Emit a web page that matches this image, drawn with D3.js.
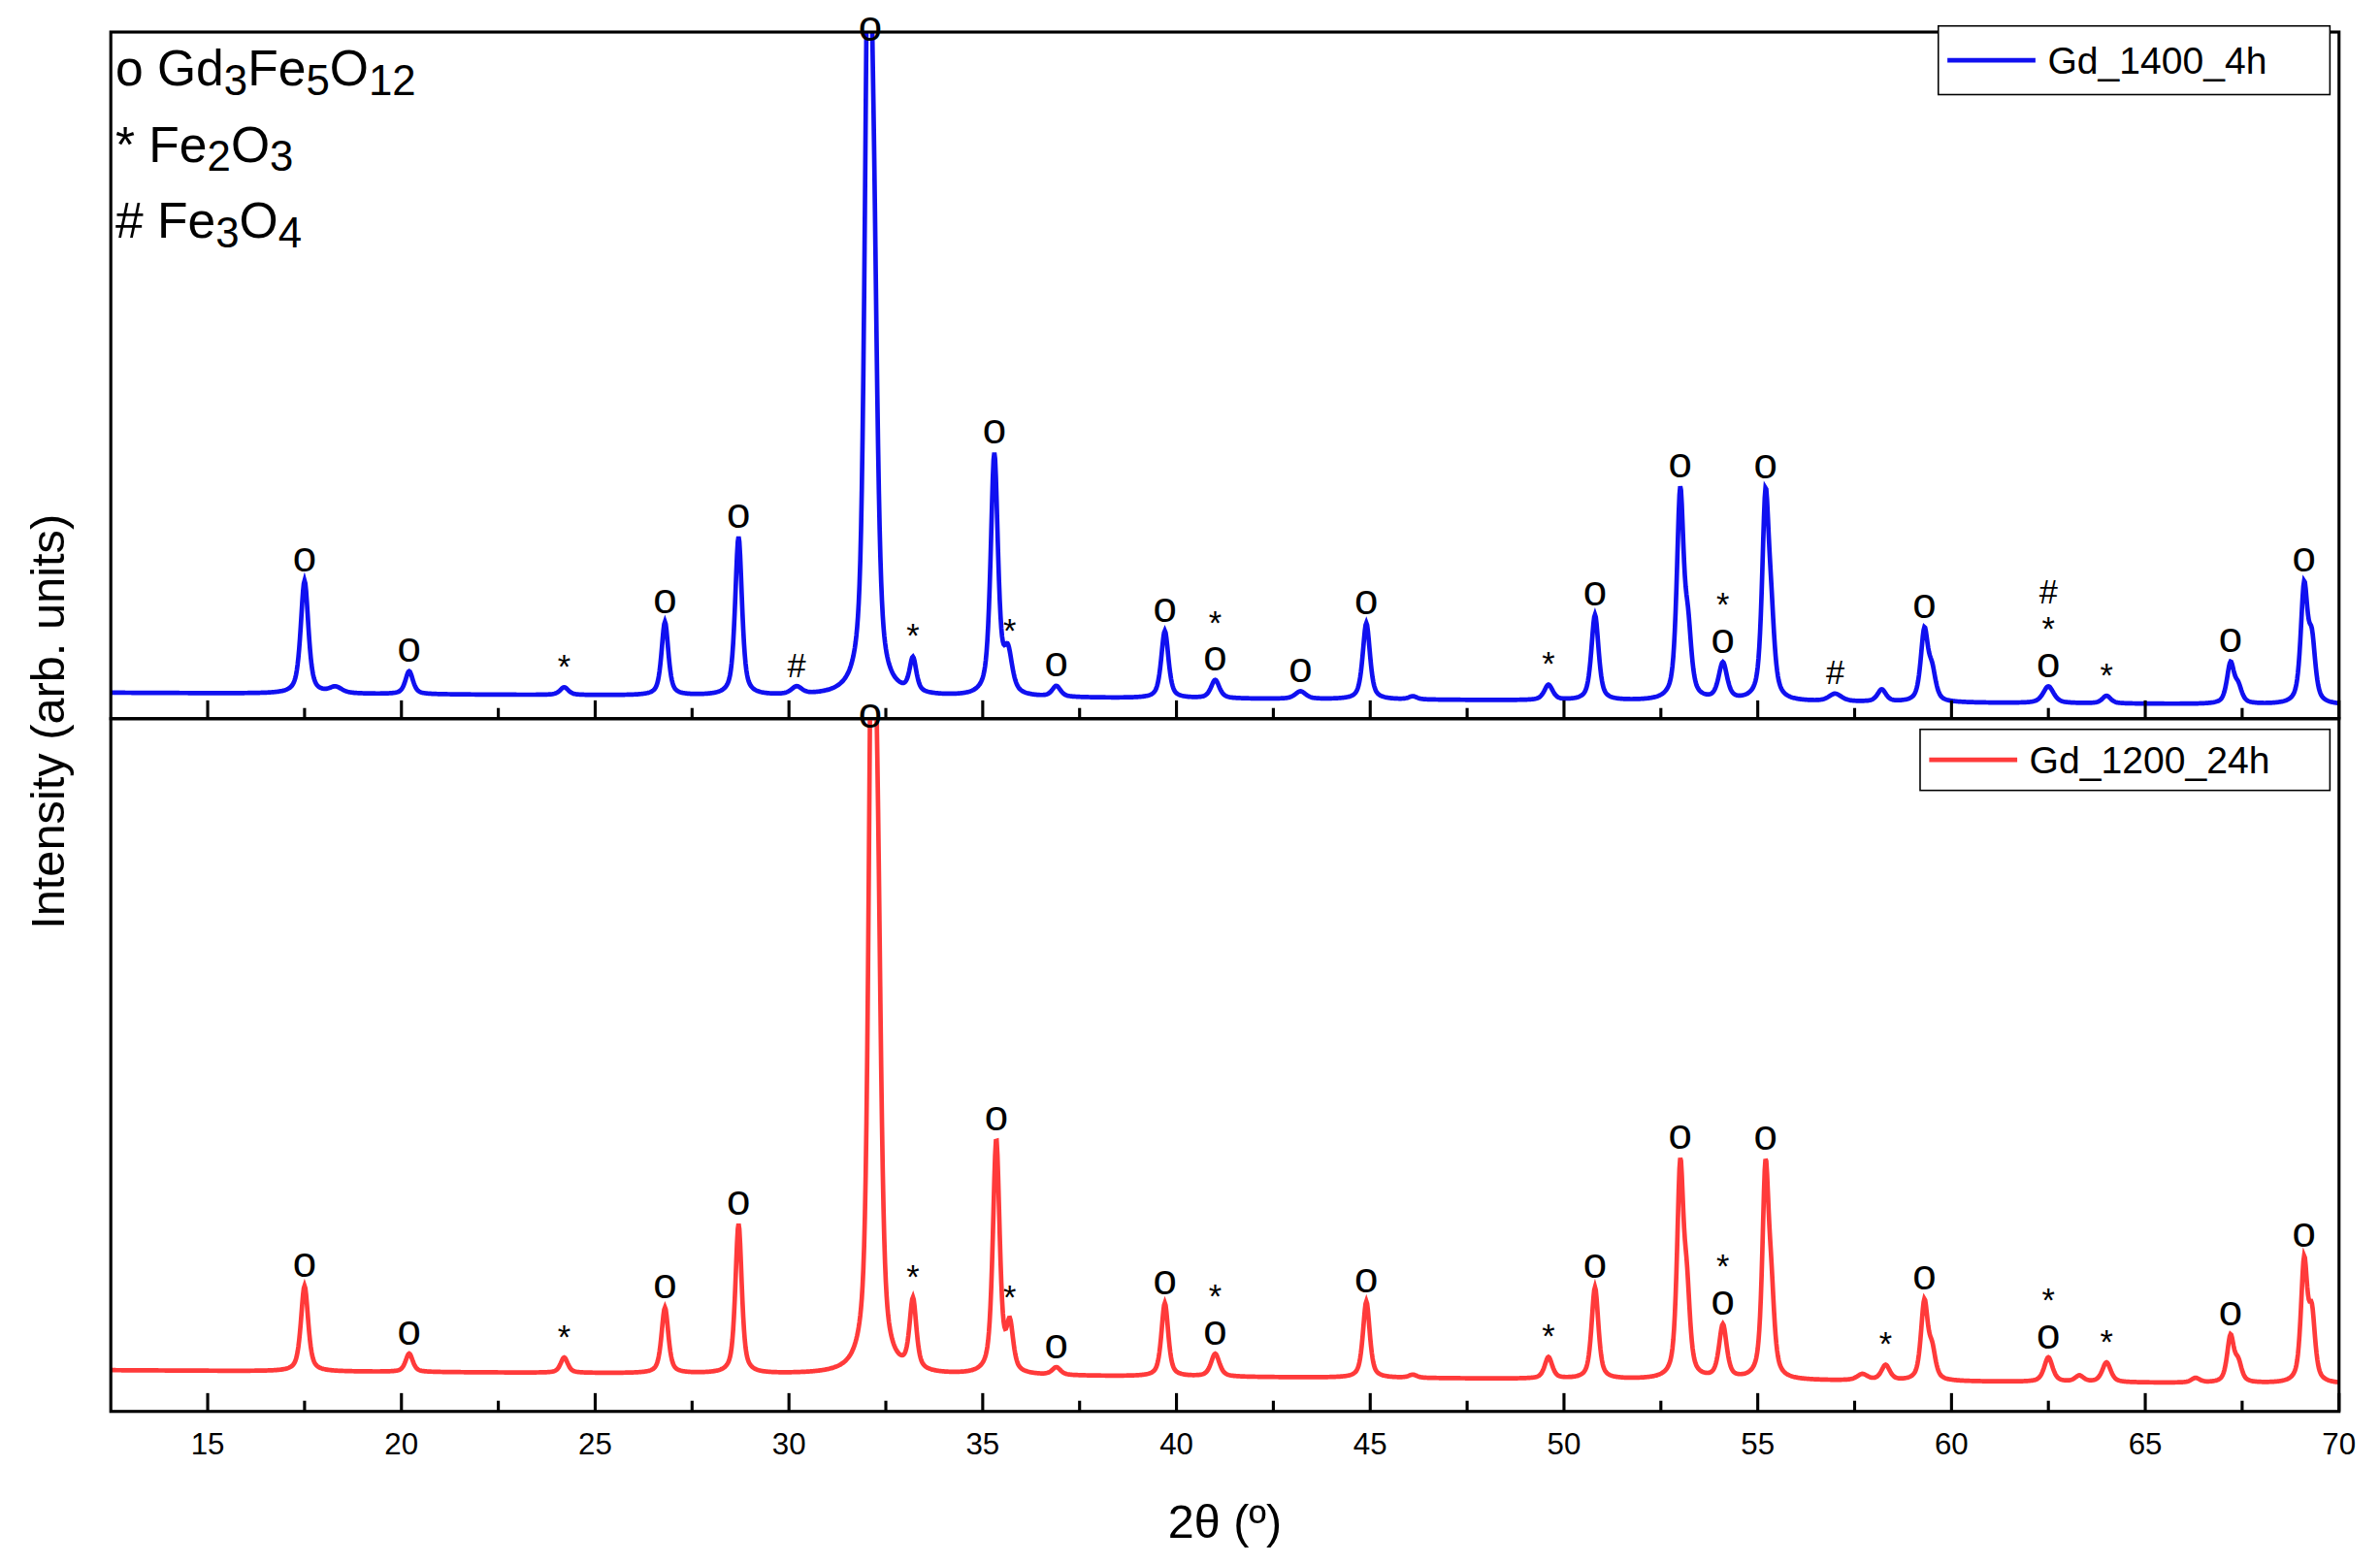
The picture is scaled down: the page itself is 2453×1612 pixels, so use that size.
<!DOCTYPE html>
<html><head><meta charset="utf-8">
<script src="https://cdn.jsdelivr.net/npm/d3@7"></script>
<style>body{margin:0;background:#fff}text{font-family:"Liberation Sans",Arial,sans-serif}</style>
</head><body><svg id="chart"></svg>
<script>
// peak lists: 2theta, height (arb.), fwhm
var topPeaks = [[17.5,74,.18],[18.3,4,.3],[20.2,15,.18],[24.2,5,.2],[26.8,48,.16],[28.7,104,.16],[30.2,5,.25],
  [32.05,480,.17],[32.2,200,.17],[33.2,22,.16],[35.3,158,.17],[35.65,26,.2],[36.9,7,.2],[39.7,44,.17],[41.0,12,.2],
  [43.2,5,.25],[44.9,50,.17],[46.1,2,.2],[49.6,10,.2],[50.8,56,.17],[53.0,134,.16],[53.2,40,.16],[54.1,24,.2],
  [55.2,128,.16],[55.35,40,.16],[57.0,5,.3],[58.2,8,.2],[59.3,46,.17],[59.5,18,.17],[62.5,11,.25],[64.0,5,.2],
  [67.2,26,.17],[67.4,10,.17],[69.1,75,.16],[69.3,38,.16]]
var botPeaks = [[17.5,56,.17],[20.2,12,.17],[24.2,10,.17],[26.8,43,.16],[28.7,98,.15],[32.15,520,.16],[32.3,220,.16],
  [33.2,46,.16],[35.35,153,.16],[35.7,30,.16],[36.9,5,.2],[39.7,48,.16],[41.0,15,.2],[44.9,50,.16],[46.1,2,.2],
  [49.6,14,.18],[50.8,60,.16],[53.0,135,.15],[53.17,50,.15],[54.1,35,.18],[55.2,133,.15],[55.35,45,.15],
  [57.7,4,.25],[58.3,10,.2],[59.3,51,.16],[59.5,18,.16],[62.5,16,.2],[63.3,4,.2],[64.0,13,.2],[66.3,3,.2],
  [67.2,30,.16],[67.4,12,.16],[69.1,78,.15],[69.3,42,.15]]
// phase marks: 2theta, stacked symbols (bottom first)
var topMarks = [[17.5,["o"]],[20.2,["o"]],[24.2,["*"]],[26.8,["o"]],[28.7,["o"]],[30.2,["#"]],[32.1,["o"]],[33.2,["*"]],
  [35.3,["o"]],[35.7,["*"]],[36.9,["o"]],[39.7,["o"]],[41.0,["o","*"]],[43.2,["o"]],[44.9,["o"]],[49.6,["*"]],
  [50.8,["o"]],[53.0,["o"]],[54.1,["o","*"]],[55.2,["o"]],[57.0,["#"]],[59.3,["o"]],[62.5,["o","*","#"]],
  [64.0,["*"]],[67.2,["o"]],[69.1,["o"]]]
var botMarks = [[17.5,["o"]],[20.2,["o"]],[24.2,["*"]],[26.8,["o"]],[28.7,["o"]],[32.1,["o"]],[33.2,["*"]],
  [35.35,["o"]],[35.7,["*"]],[36.9,["o"]],[39.7,["o"]],[41.0,["o","*"]],[44.9,["o"]],[49.6,["*"]],[50.8,["o"]],
  [53.0,["o"]],[54.1,["o","*"]],[55.2,["o"]],[58.3,["*"]],[59.3,["o"]],[62.5,["o","*"]],[64.0,["*"]],[67.2,["o"]],[69.1,["o"]]]
var xTicks = [15,20,25,30,35,40,45,50,55,60,65,70]

var W = 1568, H = 1025
var svg = d3.select("#chart").attr("width", 2453).attr("height", 1612)
  .attr("viewBox", "0 0 " + W + " " + H).attr("preserveAspectRatio", "none")
var L = 73, R = 1541, T = 21, M = 471, B = 925
var x = d3.scaleLinear().domain([12.5, 70]).range([L, R])
var WF = 1.3 // broadening

function shape(p, t){
  var d = (t - p[0]) / (p[2] * WF / 2)
  return p[1] * (0.6 / (1 + d*d) + 0.4 * Math.exp(-0.693 * d*d))
}
function profile(peaks, base0, base1){
  var pts = []
  for (var t = 12.5; t <= 70.0001; t += 0.02){
    var v = base0 + (base1 - base0) * (t - 12.5) / 57.5
    peaks.forEach(function(p){ v += shape(p, t) })
    pts.push([t, v])
  }
  return pts
}
function peakTop(peaks, t){
  var v = 0
  peaks.forEach(function(p){ v += shape(p, t) })
  return v
}

var defs = svg.append("defs")
function panel(id, peaks, marks, y0, y1, base, off, color, label, lx0, ly0, ly1){
  var y = d3.scaleLinear().domain([0, 440]).range([y1 - off, y1 - off - 440])
  defs.append("clipPath").attr("id", id).append("rect")
    .attr("x", L).attr("y", y0).attr("width", R - L).attr("height", y1 - y0)
  var data = profile(peaks, base[0], base[1])
  svg.append("path").datum(data).attr("clip-path", "url(#" + id + ")")
    .attr("fill", "none").attr("stroke", color).attr("stroke-width", 3)
    .attr("d", d3.line().x(function(d){return x(d[0])}).y(function(d){return y(d[1])}))
  marks.forEach(function(m){
    var v = peakTop(peaks, m[0]) + base[0] + (base[1]-base[0])*(m[0]-12.5)/57.5
    var py = Math.max(y(v), y0 + 12)
    m[1].forEach(function(s, i){
      svg.append("text").attr("x", x(m[0])).attr("y", py - 6 - i * 24)
        .attr("text-anchor", "middle").attr("font-size", s == "o" ? 28 : 22).text(s)
    })
  })
  var tk = svg.append("g")
  d3.range(15, 70.1, 2.5).forEach(function(t){
    var len = (t % 5 == 0) ? 12 : 7
    tk.append("line").attr("x1", x(t)).attr("x2", x(t)).attr("y1", y1).attr("y2", y1 - len)
      .attr("stroke", "#000").attr("stroke-width", 2)
  })
  svg.append("rect").attr("x", L).attr("y", y0).attr("width", R - L).attr("height", y1 - y0)
    .attr("fill", "none").attr("stroke", "#000").attr("stroke-width", 2)
  svg.append("rect").attr("x", lx0).attr("y", ly0).attr("width", R - 6 - lx0).attr("height", ly1 - ly0)
    .attr("fill", "#fff").attr("stroke", "#000").attr("stroke-width", 1)
  var my = (ly0 + ly1) / 2
  svg.append("line").attr("x1", lx0 + 6).attr("x2", lx0 + 64).attr("y1", my).attr("y2", my)
    .attr("stroke", color).attr("stroke-width", 3)
  svg.append("text").attr("x", lx0 + 72).attr("y", my + 9).attr("font-size", 25).text(label)
}
panel("cTop", topPeaks, topMarks, T, M, [0, -8], 17, "#1010f0", "Gd_1400_4h", 1277, 17, 62)
panel("cBot", botPeaks, botMarks, M, B, [-4, -13], 31, "#ff3a3a", "Gd_1200_24h", 1265, 478, 518)

svg.append("g").selectAll("text").data(xTicks).enter().append("text")
  .attr("x", function(d){return x(d)}).attr("y", 953).attr("text-anchor", "middle")
  .attr("font-size", 20).text(function(d){return d})
svg.append("text").attr("x", (L + R) / 2).attr("y", 1008).attr("text-anchor", "middle")
  .attr("font-size", 31).text("2θ (º)")
svg.append("text").attr("transform", "translate(42," + (T + B) / 2 + ") rotate(-90)")
  .attr("text-anchor", "middle").attr("font-size", 31).text("Intensity (arb. units)")

// phase key
var key = [[["o Gd",""],["3","s"],["Fe",""],["5","s"],["O",""],["12","s"]],
           [["* Fe",""],["2","s"],["O",""],["3","s"]],
           [["# Fe",""],["3","s"],["O",""],["4","s"]]]
key.forEach(function(k, i){
  var t = svg.append("text").attr("x", 76).attr("y", 56 + i * 50).attr("font-size", 33)
  k.forEach(function(p, j){
    var prevSub = j > 0 && k[j-1][1]
    var dy = p[1] ? 6 : (prevSub ? -6 : 0)
    t.append("tspan").attr("dy", dy).attr("font-size", p[1] ? 28 : 33).text(p[0])
  })
})
</script></body></html>
